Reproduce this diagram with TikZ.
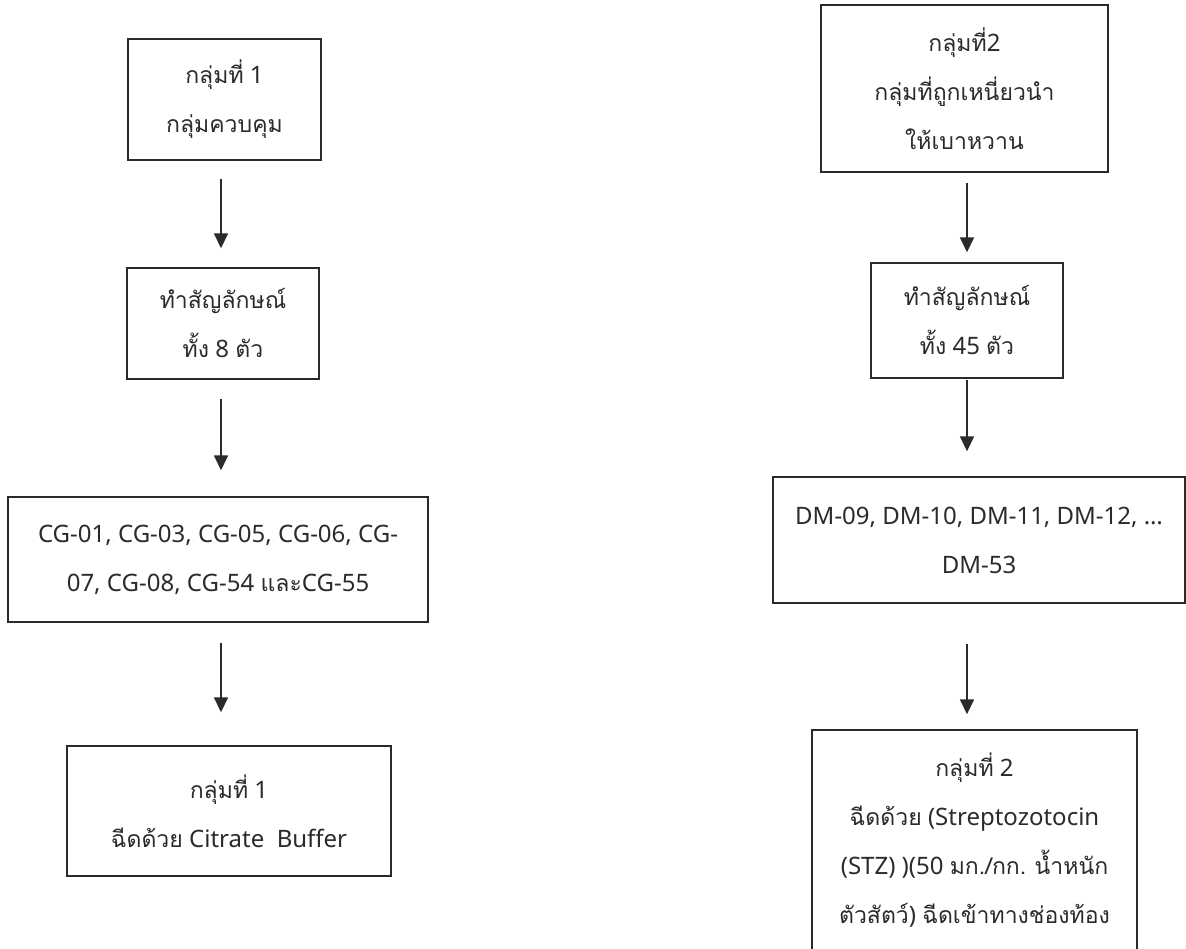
\documentclass[tikz,border=0pt]{standalone}
\usepackage{fontspec}
\setmainfont{Noto Sans}
\newfontfamily\thaifont[Script=Thai, Scale=0.96]{Loma}
\newcommand{\tha}[1]{{\thaifont #1}}
\usepackage{tikz}
\usetikzlibrary{positioning,arrows.meta}

\definecolor{inkgray}{HTML}{2B2B2B}
\tikzset{
    groupbox/.style={draw=inkgray, line width=1.4pt, text=inkgray, align=center,
        inner sep=0pt, font=\fontsize{24}{49}\selectfont},
    flow/.style={->, draw=inkgray, line width=1.6pt}
}

\begin{document}
\begin{tikzpicture}[x=1pt, y=-1pt, >={Triangle[length=15pt, width=14pt]}]

    \path[use as bounding box, fill=white] (0,0) rectangle (1186,948);

    % control group
    \node[groupbox, minimum width=193pt, minimum height=121pt] (c1) at (224.5, 99.5)
        {\tha{กลุ่มที่} 1\\\tha{กลุ่มควบคุม}};
    \node[groupbox, minimum width=192pt, minimum height=111pt] (c2) at (223, 323.5)
        {\tha{ทำสัญลักษณ์}\\\tha{ทั้ง} 8 \tha{ตัว}};
    \node[groupbox, minimum width=420pt, minimum height=125pt] (c3) at (218, 559.5)
        {CG-01, CG-03, CG-05, CG-06, CG-\\07, CG-08, CG-54 \tha{และ}CG-55};
    \node[groupbox, minimum width=324pt, minimum height=130pt] (c4) at (229, 811)
        {\tha{กลุ่มที่} 1\\\tha{ฉีดด้วย} Citrate\ \ Buffer};

    % diabetic group
    \node[groupbox, minimum width=287pt, minimum height=167pt] (d1) at (964.5, 88.5)
        {\tha{กลุ่มที่}2\\\tha{กลุ่มที่ถูกเหนี่ยวนำ}\\\tha{ให้เบาหวาน}};
    \node[groupbox, minimum width=192pt, minimum height=115pt] (d2) at (967, 320.5)
        {\tha{ทำสัญลักษณ์}\\\tha{ทั้ง} 45 \tha{ตัว}};
    \node[groupbox, minimum width=412pt, minimum height=126pt] (d3) at (979, 540)
        {DM-09, DM-10, DM-11, DM-12, …\\DM-53};
    \node[groupbox, minimum width=325pt, minimum height=220pt] (d4) at (974.5, 840)
        {\tha{กลุ่มที่} 2\\\tha{ฉีดด้วย} (Streptozotocin\\(STZ) )(50 \tha{มก./กก.} \tha{น้ำหนัก}\\\tha{ตัวสัตว์}) \tha{ฉีดเข้าทางช่องท้อง}};

    \coordinate (cx) at (221, 0);
    \coordinate (dx) at (967, 0);

    \path
        (c1.south -| cx) edge[flow, shorten <=18pt, shorten >=19pt] (c2.north -| cx)
        (c2.south -| cx) edge[flow, shorten <=19pt, shorten >=26pt] (c3.north -| cx)
        (c3.south -| cx) edge[flow, shorten <=20pt, shorten >=33pt] (c4.north -| cx)
        (d1.south -| dx) edge[flow, shorten <=10pt, shorten >=10pt] (d2.north -| dx)
        (d2.south -| dx) edge[flow, shorten <=1pt, shorten >=25pt] (d3.north -| dx)
        (d3.south -| dx) edge[flow, shorten <=40pt, shorten >=15pt] (d4.north -| dx);
\end{tikzpicture}
\end{document}
